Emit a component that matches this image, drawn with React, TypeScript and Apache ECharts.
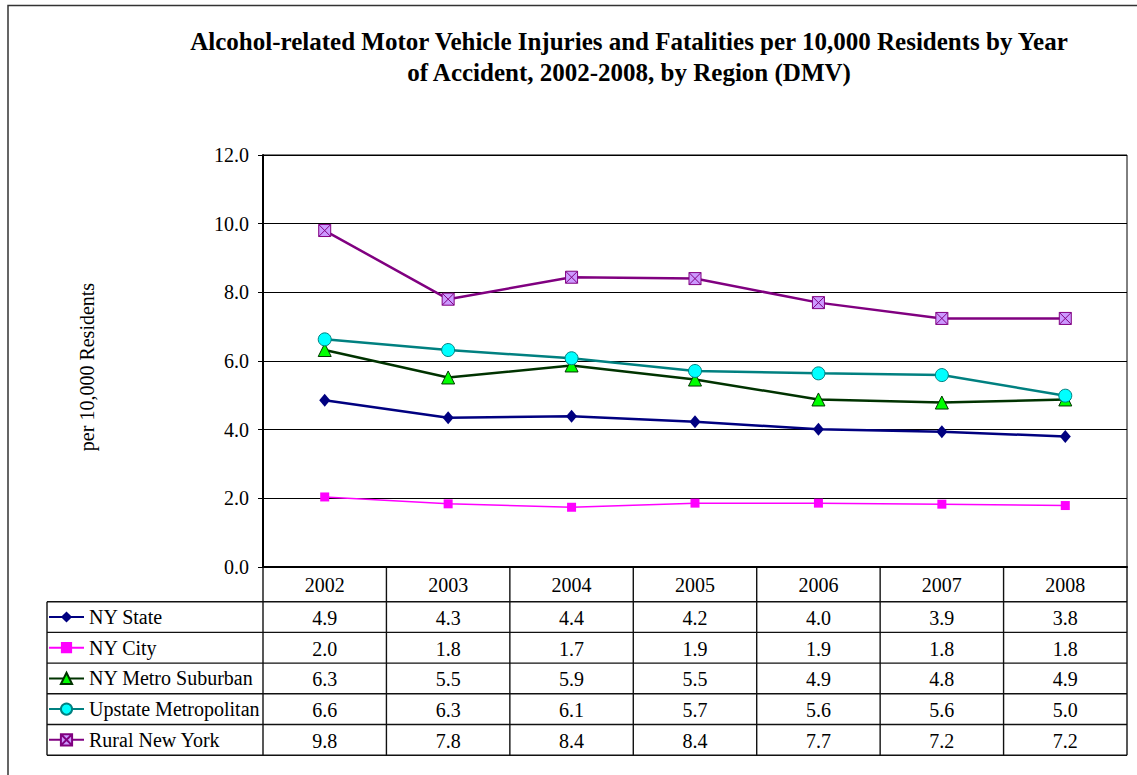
import React, { useEffect, useRef } from "react";
import * as echarts from "echarts";

// ---------- data ----------
const years = ["2002", "2003", "2004", "2005", "2006", "2007", "2008"];
const nyState = [4.86, 4.35, 4.39, 4.23, 4.01, 3.94, 3.8];
const nyCity = [2.04, 1.84, 1.74, 1.86, 1.86, 1.83, 1.79];
const nyMetroSuburban = [6.32, 5.52, 5.87, 5.46, 4.88, 4.79, 4.88];
const upstateMetropolitan = [6.63, 6.32, 6.08, 5.71, 5.64, 5.59, 4.99];
const ruralNewYork = [9.8, 7.8, 8.44, 8.4, 7.7, 7.24, 7.24];
const yTicks = [0, 2, 4, 6, 8, 10, 12];

const seriesNames = ["NY State", "NY City", "NY Metro Suburban", "Upstate Metropolitan", "Rural New York"];
const seriesValues = [nyState, nyCity, nyMetroSuburban, upstateMetropolitan, ruralNewYork];

const titleText =
  "Alcohol-related Motor Vehicle Injuries and Fatalities per 10,000 Residents by Year\nof Accident, 2002-2008, by Region (DMV)";
const yAxisName = "per 10,000 Residents";

// ---------- styles / layout ----------
const FONT = "'Liberation Serif', 'Times New Roman', serif";
const styles = [
  { line: "#000080", fill: "#000080", border: "#000080", symbol: "diamond", size: [11, 13], width: 2.5 },
  { line: "#FF00FF", fill: "#FF00FF", border: "#FF00FF", symbol: "rect", size: 9, width: 1.5 },
  { line: "#003300", fill: "#00FF00", border: "#003300", symbol: "triangle", size: 13, width: 2.5 },
  { line: "#008080", fill: "#00FFFF", border: "#008080", symbol: "circle", size: 13, width: 2.5 },
  {
    line: "#800080",
    fill: "#CC99FF",
    border: "#800080",
    symbol: "path://M0 0H10V10H0Z M0 0L10 10 M10 0L0 10",
    size: 12,
    width: 2.5,
  },
];

const GRID_LEFT = 263;
const GRID_TOP = 155;
const GRID_RIGHT_X = 1127;
const GRID_BOTTOM_Y = 567;
const HEADER_H = 34.7;
const ROW_H = 30.7;
const TABLE_LEFT = 47;

export default function App() {
  const ref = useRef<HTMLDivElement>(null);

  useEffect(() => {
    const chart = echarts.init(ref.current!, null, { renderer: "svg" });
    const option: any = {
      animation: false,
      backgroundColor: "#ffffff",
      textStyle: { fontFamily: FONT },
      title: {
        text: titleText,
        left: 624,
        top: 21,
        textAlign: "center",
        textStyle: {
          fontFamily: FONT,
          fontWeight: "bold",
          fontSize: 25,
          lineHeight: 31,
          color: "#000",
        },
      },
      legend: {
        orient: "vertical",
        left: 48,
        top: 607,
        padding: 0,
        itemWidth: 35,
        itemHeight: 14,
        itemGap: 10.7,
        data: seriesNames,
        textStyle: { fontFamily: FONT, fontSize: 20, lineHeight: 20, color: "#000" },
        selectedMode: false,
      },
      grid: {
        left: GRID_LEFT,
        top: GRID_TOP,
        width: GRID_RIGHT_X - GRID_LEFT,
        height: GRID_BOTTOM_Y - GRID_TOP,
        show: true,
        borderColor: "#000",
        borderWidth: 1,
        backgroundColor: "transparent",
      },
      xAxis: {
        type: "category",
        data: years,
        boundaryGap: true,
        axisLine: { show: true, lineStyle: { color: "#000", width: 2 } },
        axisTick: { show: false },
        axisLabel: { fontFamily: FONT, fontSize: 20, color: "#000", margin: 8 },
        splitLine: { show: false },
      },
      yAxis: {
        type: "value",
        min: yTicks[0],
        max: yTicks[yTicks.length - 1],
        interval: yTicks[1] - yTicks[0],
        name: yAxisName,
        nameLocation: "middle",
        nameRotate: 90,
        nameGap: 166,
        nameTextStyle: { fontFamily: FONT, fontSize: 20, color: "#000", padding: [0, 12, 0, 0] },
        axisLine: { show: true, lineStyle: { color: "#000", width: 2 } },
        axisTick: { show: true, length: 5, inside: false, lineStyle: { color: "#000", width: 1 } },
        axisLabel: {
          fontFamily: FONT,
          fontSize: 20,
          color: "#000",
          margin: 14,
          formatter: (v: number) => v.toFixed(1),
        },
        splitLine: { show: true, lineStyle: { color: "#000", width: 1 } },
      },
      series: seriesNames.map((name, j) => ({
        name,
        type: "line",
        data: seriesValues[j],
        symbol: styles[j].symbol,
        symbolSize: styles[j].size,
        showAllSymbol: true,
        lineStyle: { color: styles[j].line, width: styles[j].width },
        itemStyle: { color: styles[j].fill, borderColor: styles[j].border, borderWidth: j === 0 || j === 1 ? 0 : 1 },
        emphasis: { disabled: true },
        z: 3 + j,
      })),
    };
    chart.setOption(option);

    // table built from the data arrays, columns located through the category axis
    const xs = years.map((_, i) => chart.convertToPixel({ xAxisIndex: 0 }, i) as number);
    const step = xs.length > 1 ? xs[1] - xs[0] : 0;
    const tableBottom = GRID_BOTTOM_Y + HEADER_H + ROW_H * seriesNames.length;
    const lineStyle = { stroke: "#111", lineWidth: 1.4 };
    const graphics: any[] = [];

    // outer frame
    graphics.push({
      type: "rect",
      shape: { x: 8, y: 5.5, width: 1300, height: 900 },
      style: { fill: "none", stroke: "#333", lineWidth: 1.5 },
      silent: true,
      z: 0,
    });
    // horizontal row lines
    for (let r = 0; r <= seriesNames.length; r++) {
      const y = GRID_BOTTOM_Y + HEADER_H + ROW_H * r;
      graphics.push({
        type: "line",
        shape: { x1: TABLE_LEFT, y1: y, x2: GRID_RIGHT_X, y2: y },
        style: lineStyle,
        silent: true,
      });
    }
    // left border of legend column
    graphics.push({
      type: "line",
      shape: { x1: TABLE_LEFT, y1: GRID_BOTTOM_Y + HEADER_H, x2: TABLE_LEFT, y2: tableBottom },
      style: lineStyle,
      silent: true,
    });
    // column separators
    for (let k = 0; k <= years.length; k++) {
      const x = xs[0] - step / 2 + step * k;
      graphics.push({
        type: "line",
        shape: { x1: x, y1: GRID_BOTTOM_Y, x2: x, y2: tableBottom },
        style: lineStyle,
        silent: true,
      });
    }
    // cell values
    seriesValues.forEach((vals, j) => {
      const yc = GRID_BOTTOM_Y + HEADER_H + ROW_H * j + ROW_H / 2 + 1;
      vals.forEach((v, i) => {
        graphics.push({
          type: "text",
          x: xs[i],
          y: yc,
          style: {
            text: v.toFixed(1),
            font: `20px ${FONT}`,
            fill: "#000",
            textAlign: "center",
            textVerticalAlign: "middle",
          },
          silent: true,
        });
      });
    });
    chart.setOption({ graphic: graphics });

    return () => chart.dispose();
  }, []);

  return (
    <div
      ref={ref}
      style={{ position: "absolute", left: 0, top: 0, width: 1137, height: 775 }}
    />
  );
}
